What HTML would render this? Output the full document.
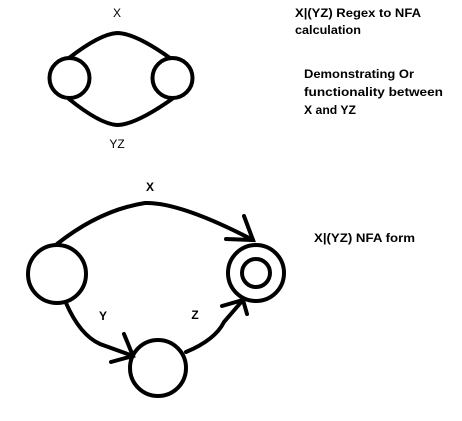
<!DOCTYPE html>
<html><head><style>html,body{margin:0;padding:0;background:#fff}svg{display:block}</style></head>
<body>
<svg width="462" height="421" viewBox="0 0 462 421" xmlns="http://www.w3.org/2000/svg">
<g fill="none" stroke="#000" stroke-width="4" stroke-linecap="round">
<circle cx="69.5" cy="78" r="20"/>
<circle cx="172.5" cy="78" r="20"/>
<path d="M69 58 Q100 34 117 33 Q135 33 170 58"/>
<path d="M69 99 Q100 124 117 125 Q135 125 172 99"/>
<circle cx="57" cy="274" r="29"/>
<circle cx="256" cy="273" r="28"/>
<circle cx="256" cy="273" r="14"/>
<circle cx="158" cy="368" r="28"/>
<path d="M57 244 Q100 210 145 203 Q180 202 253 240"/>
<path d="M244 216 L253 240 L226 239"/>
<path d="M66 303 Q80 335 100 344 L133 356"/>
<path d="M124 334 L133 356 L111 362"/>
<path d="M186 352 Q215 340 224 322 L243 300"/>
<path d="M222 306 L243 300 L247 314"/>
</g>
<g font-family="Liberation Sans, sans-serif" font-size="12" fill="#000">
<text x="117" y="17" text-anchor="middle">X</text>
<text x="117" y="148" text-anchor="middle">YZ</text>
</g>
<g font-family="Liberation Sans, sans-serif" font-size="12" font-weight="bold" fill="#000">
<text x="150" y="191" text-anchor="middle">X</text>
<text x="103" y="320" text-anchor="middle">Y</text>
<text x="195" y="319" text-anchor="middle">Z</text>
<text x="295" y="17" textLength="126" lengthAdjust="spacingAndGlyphs">X|(YZ) Regex to NFA</text>
<text x="295" y="34" textLength="66" lengthAdjust="spacingAndGlyphs">calculation</text>
<text x="304" y="78" textLength="110" lengthAdjust="spacingAndGlyphs">Demonstrating Or</text>
<text x="304" y="96" textLength="139" lengthAdjust="spacingAndGlyphs">functionality between</text>
<text x="304" y="114" textLength="52" lengthAdjust="spacingAndGlyphs">X and YZ</text>
<text x="314" y="242" textLength="101" lengthAdjust="spacingAndGlyphs">X|(YZ) NFA form</text>
</g>
</svg>
</body></html>
